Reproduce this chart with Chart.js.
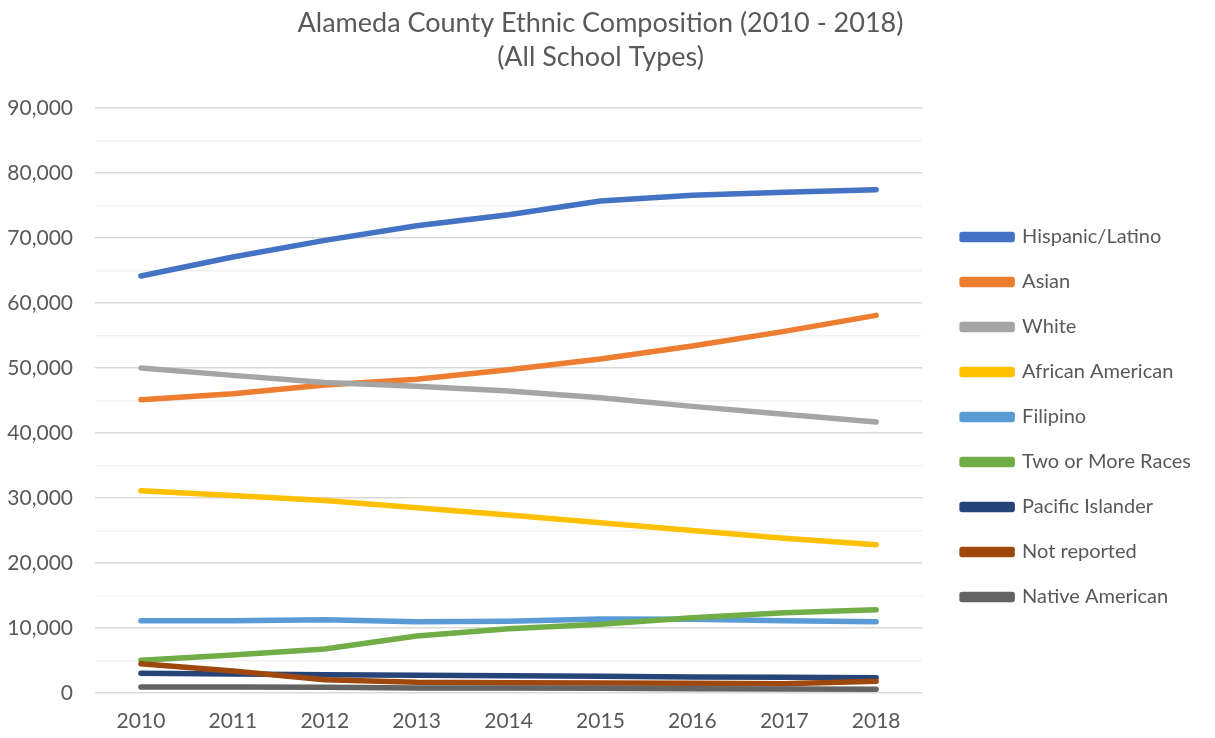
<!DOCTYPE html>
<html>
<head>
<meta charset="utf-8">
<title>Alameda County Ethnic Composition</title>
<script src="https://cdn.jsdelivr.net/npm/chart.js@4"></script>
<style>
  html, body { margin: 0; padding: 0; background: #fff; }
  #wrap { width: 1215px; height: 738px; }
</style>
</head>
<body>
<div id="wrap"><canvas id="ethnicChart" width="1215" height="738"></canvas></div>
<script>
// DATA
var years = ['2010', '2011', '2012', '2013', '2014', '2015', '2016', '2017', '2018'];

var hispanicLatino   = [64150, 67080, 69640, 71900, 73590, 75700, 76600, 77030, 77440];
var asian            = [45130, 46050, 47380, 48260, 49740, 51380, 53380, 55640, 58100];
var white            = [50000, 48870, 47790, 47180, 46460, 45440, 44100, 42870, 41690];
var africanAmerican  = [31100, 30400, 29600, 28500, 27400, 26200, 25000, 23800, 22800];
var filipino         = [11130, 11130, 11280, 10970, 11030, 11380, 11330, 11130, 10970];
var twoOrMoreRaces   = [5030, 5850, 6770, 8770, 9900, 10560, 11590, 12360, 12820];
var pacificIslander  = [3030, 2920, 2820, 2720, 2670, 2560, 2460, 2410, 2360];
var notReported      = [4510, 3380, 2050, 1640, 1590, 1540, 1490, 1440, 1790];
var nativeAmerican   = [920, 920, 870, 770, 770, 720, 670, 620, 560];

var seriesNames  = ['Hispanic/Latino', 'Asian', 'White', 'African American', 'Filipino',
                    'Two or More Races', 'Pacific Islander', 'Not reported', 'Native American'];
var seriesValues = [hispanicLatino, asian, white, africanAmerican, filipino,
                    twoOrMoreRaces, pacificIslander, notReported, nativeAmerican];
var seriesColors = ['#4472C4', '#ED7D31', '#A5A5A5', '#FFC000', '#5B9BD5',
                    '#70AD47', '#264478', '#9E480E', '#636363'];

var yMax = 90000;
var yStep = 5000;

var textColor = '#595959';
var fontFamily = 'Lato, "Noto Sans", sans-serif';

// build datasets, later series drawn on top like Excel does
var datasets = [];
for (var i = 0; i < seriesNames.length; i++) {
	datasets.push({
		label: seriesNames[i],
		data: seriesValues[i],
		borderColor: seriesColors[i],
		backgroundColor: seriesColors[i],
		borderWidth: 5.5,
		borderCapStyle: 'round',
		borderJoinStyle: 'round',
		pointRadius: 0,
		pointHoverRadius: 0,
		tension: 0,
		fill: false,
		order: seriesNames.length - i
	});
}

// leave a gap between the plot and the legend (legend padding alone can't do it)
var plotGap = {
	id: 'plotGap',
	afterLayout: function(chart) {
		var gap = 15;
		chart.chartArea.right -= gap;
		chart.chartArea.width -= gap;
		var x = chart.scales.x;
		x.right -= gap;
		x.width -= gap;
		x.configure();
	}
};

var ctx = document.getElementById('ethnicChart').getContext('2d');

var ethnicChart = new Chart(ctx, {
	type: 'line',
	data: {
		labels: years,
		datasets: datasets
	},
	plugins: [plotGap],
	options: {
		responsive: false,
		animation: false,
		layout: {
			padding: { left: 0, right: 14, top: 0, bottom: 4 }
		},
		plugins: {
			title: {
				display: true,
				text: ['Alameda County Ethnic Composition (2010 - 2018)', '(All School Types)'],
				color: textColor,
				font: { family: fontFamily, size: 27, weight: 'normal', lineHeight: 1.26 },
				padding: { top: 6, bottom: 34 }
			},
			legend: {
				position: 'right',
				fullSize: false,
				align: 'center',
				title: {
					display: true,
					text: '',
					font: { size: 10, lineHeight: 1 },
					padding: { top: 0, bottom: 23 }
				},
				labels: {
					color: textColor,
					font: { family: fontFamily, size: 20 },
					boxWidth: 50,
					boxHeight: 5,
					padding: 25,
					sort: function(a, b) { return a.datasetIndex - b.datasetIndex; }
				}
			},
			tooltip: { enabled: false }
		},
		scales: {
			x: {
				offset: true,
				grid: { display: false, drawTicks: false },
				border: { display: false },
				ticks: {
					color: textColor,
					font: { family: fontFamily, size: 21 },
					padding: 16,
					maxRotation: 0
				},
				afterFit: function(scale) { scale.height = 41; }
			},
			y: {
				min: 0,
				max: yMax,
				border: { display: false },
				grid: {
					drawTicks: false,
					lineWidth: 1.5,
					color: function(c) {
						return (c.tick && c.tick.value % 10000 === 0) ? '#D9D9D9' : '#F2F2F2';
					}
				},
				ticks: {
					stepSize: yStep,
					color: textColor,
					font: { family: fontFamily, size: 21 },
					padding: 22,
					callback: function(value) {
						return value % 10000 === 0 ? value.toLocaleString('en-US') : '';
					}
				},
				afterFit: function(scale) { scale.width = 95; }
			}
		}
	}
});
</script>
</body>
</html>
